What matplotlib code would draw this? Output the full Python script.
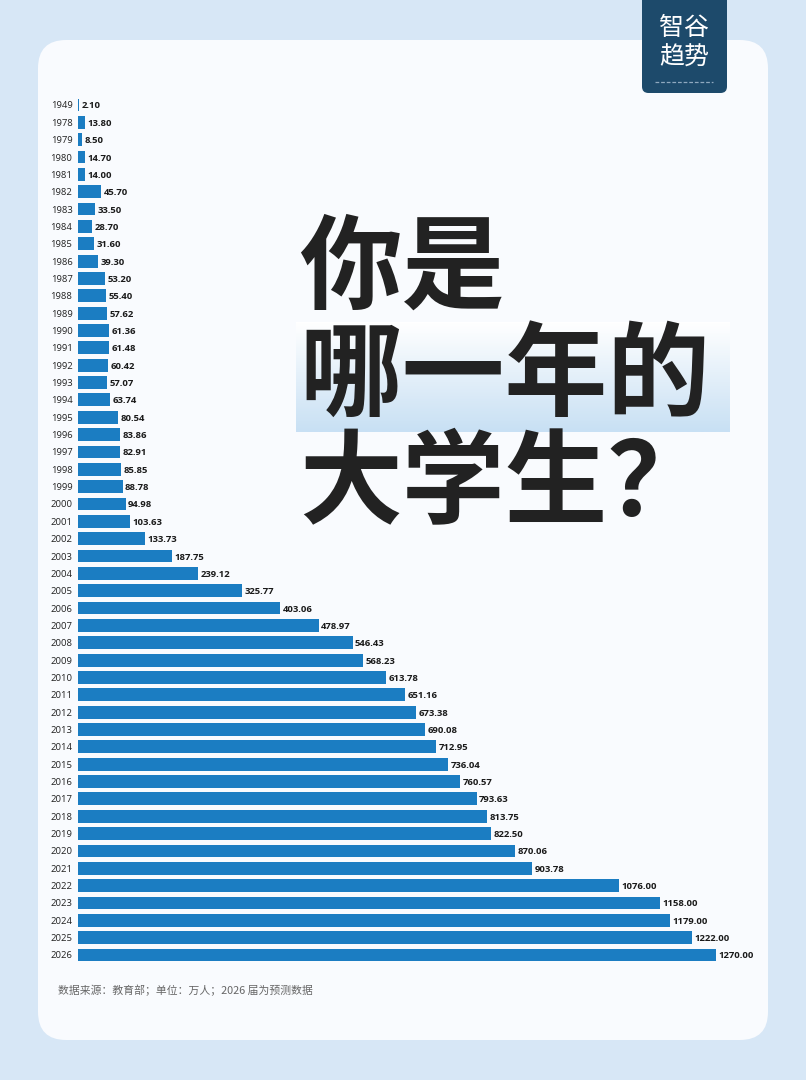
import numpy as np
import matplotlib.pyplot as plt
from matplotlib.patches import FancyBboxPatch
from matplotlib.colors import LinearSegmentedColormap

plt.rcParams['font.family'] = ['Noto Sans CJK SC', 'DejaVu Sans']

# data: graduates per year (万人)
years = ['1949', '1978', '1979', '1980', '1981', '1982', '1983', '1984', '1985', '1986',
         '1987', '1988', '1989', '1990', '1991', '1992', '1993', '1994', '1995', '1996',
         '1997', '1998', '1999', '2000', '2001', '2002', '2003', '2004', '2005', '2006',
         '2007', '2008', '2009', '2010', '2011', '2012', '2013', '2014', '2015', '2016',
         '2017', '2018', '2019', '2020', '2021', '2022', '2023', '2024', '2025', '2026']
values = [2.10, 13.80, 8.50, 14.70, 14.00, 45.70, 33.50, 28.70, 31.60, 39.30,
          53.20, 55.40, 57.62, 61.36, 61.48, 60.42, 57.07, 63.74, 80.54, 83.86,
          82.91, 85.85, 88.78, 94.98, 103.63, 133.73, 187.75, 239.12, 325.77, 403.06,
          478.97, 546.43, 568.23, 613.78, 651.16, 673.38, 690.08, 712.95, 736.04, 760.57,
          793.63, 813.75, 822.50, 870.06, 903.78, 1076.00, 1158.00, 1179.00, 1222.00, 1270.00]

W, H = 806, 1080
fig = plt.figure(figsize=(W / 100, H / 100), dpi=100)
fig.patch.set_facecolor('#d7e7f6')

def fx(px):
    return px / W

def fy(py):
    return 1 - py / H

# white card
card = FancyBboxPatch((fx(38), fy(1040)), fx(768) - fx(38), fy(40) - fy(1040),
                      boxstyle='round,pad=0,rounding_size=0.035',
                      transform=fig.transFigure, facecolor='#f9fbfe',
                      edgecolor='none', mutation_aspect=W / H, zorder=-2)
fig.patches.append(card)

# highlight band behind second title line
hl = fig.add_axes([fx(296), fy(432), fx(730) - fx(296), fy(322) - fy(432)])
grad = np.linspace(0, 1, 100).reshape(-1, 1)
cm = LinearSegmentedColormap.from_list('hl', ['#ffffff', '#c8e0f4'])
hl.imshow(grad, aspect='auto', cmap=cm, extent=[0, 1, 0, 1], origin='upper')
hl.axis('off')

# bar chart
n = len(years)
row = (955 - 105) / (n - 1)
top = 105 - row / 2
bot = 955 + row / 2
ax = fig.add_axes([fx(78), fy(bot), fx(716) - fx(78), fy(top) - fy(bot)])
ax.patch.set_alpha(0)
y = np.arange(n)
ax.barh(y, values, height=0.74, color='#1b7dc2')
ax.set_xlim(0, 1270)
ax.set_ylim(n - 0.5, -0.5)
ax.set_yticks(y)
ax.set_yticklabels(years, fontsize=6.8, color='#222222', family='Open Sans')
ax.tick_params(axis='y', length=0, pad=4)
ax.set_xticks([])
for s in ax.spines.values():
    s.set_visible(False)
for yi, v in zip(y, values):
    ax.text(v + 5, yi, f'{v:.2f}', va='center_baseline', ha='left', fontsize=6.8,
            family='Open Sans', fontweight='bold', color='#1a1a1a', clip_on=False)

# title
title_lines = ['你是', '哪一年的', '大学生？']
title_y = [270, 378, 486]
for t, ty in zip(title_lines, title_y):
    fig.text(fx(299), fy(ty), t, fontsize=74, fontweight='black',
             color='#222222', va='center', ha='left')

# logo
logo = FancyBboxPatch((fx(642), fy(93)), fx(727) - fx(642), fy(-20) - fy(93),
                      boxstyle='round,pad=0,rounding_size=0.008',
                      transform=fig.transFigure, facecolor='#1d4a6b',
                      edgecolor='none', mutation_aspect=W / H, zorder=5)
fig.patches.append(logo)
fig.text(fx(684), fy(28), '智谷', fontsize=18, fontweight='light', color='white',
         ha='center', va='center', zorder=6)
fig.text(fx(684), fy(58), '趋势', fontsize=18, fontweight='light', color='white',
         ha='center', va='center', zorder=6)
fig.lines.append(plt.Line2D([fx(655), fx(713)], [fy(82), fy(82)], transform=fig.transFigure,
                            color='#8fa9bf', lw=0.9, linestyle=(0, (3, 1.5)), zorder=6))

# footer
fig.text(fx(58), fy(990), '数据来源：教育部；单位：万人；2026 届为预测数据', fontsize=7.8,
         color='#666666', va='center', ha='left')

fig.savefig('out.png', dpi=100, facecolor=fig.get_facecolor())
